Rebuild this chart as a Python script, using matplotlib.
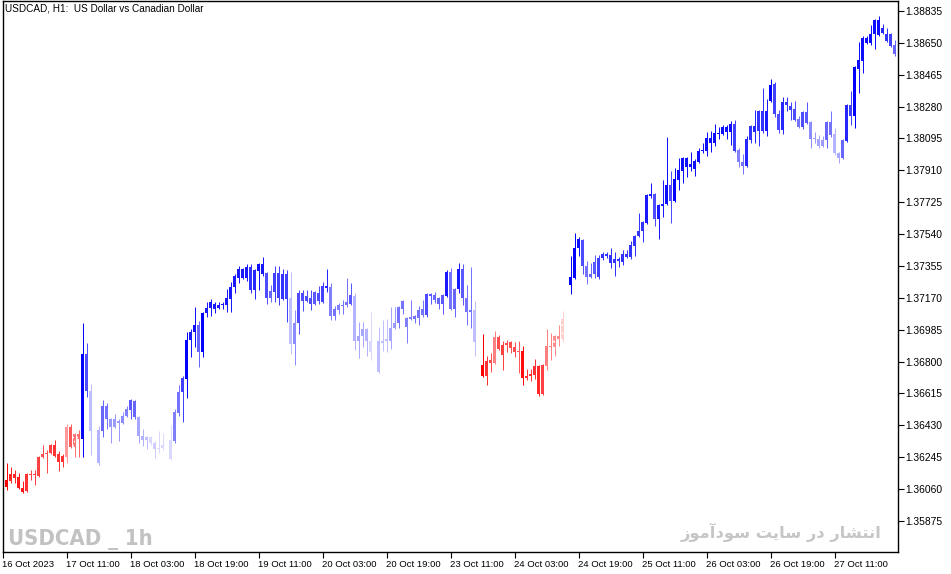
import numpy as np
import matplotlib.pyplot as plt
from matplotlib import font_manager
from matplotlib.font_manager import FontProperties

# USDCAD H1 candles (16 Oct 2023 19:00 onwards)
opens = [
    1.36165, 1.36072, 1.36107, 1.36148, 1.36130, 1.36067, 1.36049, 1.36148, 1.36142, 1.36136,
    1.36246, 1.36264, 1.36270, 1.36316, 1.36264, 1.36217, 1.36246, 1.36420, 1.36304, 1.36380,
    1.36351, 1.36845, 1.36629, 1.36397, 1.36212, 1.36397, 1.36542, 1.36467, 1.36420, 1.36455,
    1.36444, 1.36484, 1.36519, 1.36571, 1.36478, 1.36368, 1.36345, 1.36362, 1.36328, 1.36293,
    1.36299, 1.36316, 1.36235, 1.36339, 1.36502, 1.36623, 1.36700, 1.36926, 1.36972, 1.37013,
    1.36856, 1.37083, 1.37112, 1.37135, 1.37112, 1.37129, 1.37129, 1.37164, 1.37233, 1.37286,
    1.37338, 1.37286, 1.37349, 1.37216, 1.37326, 1.37367, 1.37315, 1.37170, 1.37204, 1.37315,
    1.37164, 1.37309, 1.37170, 1.36903, 1.37025, 1.37199, 1.37152, 1.37170, 1.37135, 1.37199,
    1.37146, 1.37239, 1.37233, 1.37065, 1.37100, 1.37123, 1.37129, 1.37135, 1.37181, 1.36920,
    1.36949, 1.36990, 1.36920, 1.36856, 1.36740, 1.36920, 1.36920, 1.36920, 1.36996, 1.37025,
    1.37106, 1.37054, 1.37048, 1.37065, 1.37054, 1.37106, 1.37071, 1.37193, 1.37187, 1.37170,
    1.37135, 1.37181, 1.37320, 1.37106, 1.37222, 1.37338, 1.37170, 1.37088, 1.37100, 1.36914,
    1.36781, 1.36717, 1.36810, 1.36793, 1.36943, 1.36839, 1.36897, 1.36914, 1.36885, 1.36856,
    1.36862, 1.36706, 1.36717, 1.36723, 1.36775, 1.36612, 1.36775, 1.36891, 1.36885, 1.36949,
    1.36932, 1.37048, 1.37245, 1.37286, 1.37459, 1.37506, 1.37355, 1.37291, 1.37309, 1.37291,
    1.37402, 1.37425, 1.37419, 1.37373, 1.37396, 1.37378, 1.37425, 1.37407, 1.37471, 1.37529,
    1.37558, 1.37605, 1.37761, 1.37773, 1.37628, 1.37703, 1.37715, 1.37825, 1.37732, 1.37854,
    1.37906, 1.37982, 1.37930, 1.37918, 1.37959, 1.38022, 1.38022, 1.38098, 1.38069, 1.38127,
    1.38121, 1.38162, 1.38132, 1.38180, 1.38028, 1.37959, 1.37935, 1.38086, 1.38168, 1.38138,
    1.38255, 1.38138, 1.38313, 1.38412, 1.38238, 1.38144, 1.38307, 1.38284, 1.38267, 1.38209,
    1.38162, 1.38249, 1.38191, 1.38092, 1.38092, 1.38051, 1.38086, 1.38191, 1.38121, 1.38011,
    1.37982, 1.38081, 1.38290, 1.38226, 1.38499, 1.38545, 1.38678, 1.38649, 1.38702, 1.38783,
    1.38707, 1.38702, 1.38702, 1.38638,
]
highs = [
    1.36171, 1.36212, 1.36188, 1.36171, 1.36154, 1.36107, 1.36154, 1.36171, 1.36171, 1.36252,
    1.36316, 1.36287, 1.36322, 1.36345, 1.36281, 1.36264, 1.36438, 1.36438, 1.36386, 1.36403,
    1.37025, 1.36909, 1.36671, 1.36415, 1.36426, 1.36577, 1.36560, 1.36473, 1.36496, 1.36467,
    1.36507, 1.36542, 1.36583, 1.36577, 1.36484, 1.36409, 1.36368, 1.36368, 1.36339, 1.36397,
    1.36386, 1.36328, 1.36432, 1.36525, 1.36665, 1.36717, 1.36972, 1.36990, 1.37117, 1.37036,
    1.37088, 1.37146, 1.37164, 1.37146, 1.37146, 1.37146, 1.37222, 1.37262, 1.37309, 1.37355,
    1.37344, 1.37367, 1.37367, 1.37338, 1.37373, 1.37407, 1.37320, 1.37245, 1.37355, 1.37355,
    1.37338, 1.37332, 1.37320, 1.37100, 1.37216, 1.37216, 1.37216, 1.37216, 1.37210, 1.37239,
    1.37262, 1.37338, 1.37256, 1.37123, 1.37141, 1.37158, 1.37286, 1.37256, 1.37199, 1.37030,
    1.37030, 1.36996, 1.37088, 1.36880, 1.37001, 1.37042, 1.37048, 1.37117, 1.37117, 1.37123,
    1.37158, 1.37059, 1.37158, 1.37071, 1.37123, 1.37158, 1.37199, 1.37199, 1.37204, 1.37175,
    1.37193, 1.37332, 1.37344, 1.37228, 1.37373, 1.37367, 1.37245, 1.37349, 1.37152, 1.36926,
    1.36961, 1.36833, 1.36851, 1.36978, 1.36955, 1.36920, 1.36926, 1.36920, 1.36914, 1.36920,
    1.36891, 1.36758, 1.36758, 1.36816, 1.36781, 1.36787, 1.36990, 1.36967, 1.36955, 1.37013,
    1.37094, 1.37256, 1.37413, 1.37547, 1.37524, 1.37512, 1.37384, 1.37373, 1.37419, 1.37419,
    1.37436, 1.37436, 1.37459, 1.37436, 1.37407, 1.37448, 1.37448, 1.37500, 1.37535, 1.37663,
    1.37616, 1.37773, 1.37837, 1.37779, 1.37715, 1.37854, 1.38104, 1.37906, 1.37924, 1.37982,
    1.37988, 1.37988, 1.38017, 1.37976, 1.38040, 1.38069, 1.38132, 1.38138, 1.38180, 1.38162,
    1.38174, 1.38174, 1.38197, 1.38203, 1.38040, 1.38005, 1.38109, 1.38174, 1.38261, 1.38261,
    1.38388, 1.38325, 1.38441, 1.38423, 1.38261, 1.38336, 1.38336, 1.38307, 1.38313, 1.38226,
    1.38255, 1.38307, 1.38197, 1.38132, 1.38115, 1.38109, 1.38197, 1.38255, 1.38156, 1.38017,
    1.38092, 1.38296, 1.38371, 1.38516, 1.38655, 1.38690, 1.38690, 1.38754, 1.38789, 1.38806,
    1.38760, 1.38736, 1.38707, 1.38667,
]
lows = [
    1.36067, 1.36055, 1.36096, 1.36096, 1.36061, 1.36038, 1.36043, 1.36113, 1.36084, 1.36130,
    1.36240, 1.36154, 1.36264, 1.36246, 1.36165, 1.36188, 1.36212, 1.36299, 1.36246, 1.36246,
    1.36246, 1.36594, 1.36258, 1.36206, 1.36200, 1.36362, 1.36409, 1.36328, 1.36415, 1.36339,
    1.36438, 1.36478, 1.36467, 1.36467, 1.36328, 1.36310, 1.36293, 1.36316, 1.36240, 1.36270,
    1.36287, 1.36223, 1.36229, 1.36328, 1.36484, 1.36449, 1.36589, 1.36827, 1.36885, 1.36769,
    1.36827, 1.37059, 1.37065, 1.37083, 1.37106, 1.37106, 1.37088, 1.37088, 1.37199, 1.37256,
    1.37280, 1.37268, 1.37199, 1.37164, 1.37216, 1.37297, 1.37135, 1.37146, 1.37146, 1.37129,
    1.37158, 1.37030, 1.36845, 1.36781, 1.36961, 1.37094, 1.37146, 1.37100, 1.37129, 1.37135,
    1.37141, 1.37204, 1.37042, 1.37042, 1.37077, 1.37077, 1.37117, 1.37129, 1.36868, 1.36821,
    1.36885, 1.36833, 1.36810, 1.36723, 1.36735, 1.36862, 1.36856, 1.36874, 1.36990, 1.36996,
    1.37077, 1.36909, 1.37042, 1.37025, 1.37013, 1.37059, 1.37059, 1.37135, 1.37141, 1.37106,
    1.37077, 1.37175, 1.37100, 1.37059, 1.37199, 1.37129, 1.37013, 1.36996, 1.36833, 1.36763,
    1.36711, 1.36665, 1.36740, 1.36787, 1.36868, 1.36752, 1.36856, 1.36851, 1.36827, 1.36735,
    1.36665, 1.36694, 1.36688, 1.36700, 1.36600, 1.36606, 1.36752, 1.36810, 1.36833, 1.36891,
    1.36914, 1.37030, 1.37193, 1.37280, 1.37413, 1.37309, 1.37251, 1.37286, 1.37286, 1.37280,
    1.37390, 1.37402, 1.37344, 1.37297, 1.37349, 1.37361, 1.37402, 1.37396, 1.37413, 1.37524,
    1.37494, 1.37599, 1.37750, 1.37587, 1.37512, 1.37639, 1.37709, 1.37605, 1.37726, 1.37796,
    1.37837, 1.37871, 1.37906, 1.37877, 1.37953, 1.38011, 1.37993, 1.38017, 1.38051, 1.38092,
    1.38115, 1.38092, 1.38057, 1.38017, 1.37930, 1.37889, 1.37930, 1.38069, 1.38069, 1.38051,
    1.38127, 1.38109, 1.38307, 1.38220, 1.38127, 1.38121, 1.38255, 1.38203, 1.38197, 1.38156,
    1.38150, 1.38180, 1.38040, 1.38069, 1.38040, 1.38046, 1.38040, 1.38104, 1.38000, 1.37953,
    1.37976, 1.38075, 1.38174, 1.38156, 1.38359, 1.38475, 1.38643, 1.38638, 1.38615, 1.38690,
    1.38702, 1.38655, 1.38626, 1.38574,
]
closes = [
    1.36072, 1.36113, 1.36148, 1.36125, 1.36067, 1.36043, 1.36148, 1.36142, 1.36148, 1.36246,
    1.36264, 1.36270, 1.36316, 1.36252, 1.36217, 1.36252, 1.36420, 1.36304, 1.36380, 1.36351,
    1.36845, 1.36629, 1.36397, 1.36217, 1.36403, 1.36542, 1.36467, 1.36420, 1.36467, 1.36444,
    1.36484, 1.36525, 1.36577, 1.36478, 1.36368, 1.36345, 1.36362, 1.36328, 1.36293, 1.36299,
    1.36316, 1.36235, 1.36345, 1.36507, 1.36623, 1.36706, 1.36926, 1.36972, 1.37013, 1.36856,
    1.37083, 1.37112, 1.37146, 1.37106, 1.37129, 1.37135, 1.37170, 1.37233, 1.37297, 1.37338,
    1.37286, 1.37349, 1.37216, 1.37332, 1.37367, 1.37309, 1.37170, 1.37210, 1.37315, 1.37170,
    1.37309, 1.37164, 1.36903, 1.37025, 1.37199, 1.37152, 1.37181, 1.37135, 1.37204, 1.37152,
    1.37239, 1.37228, 1.37065, 1.37106, 1.37129, 1.37129, 1.37146, 1.37187, 1.36920, 1.36949,
    1.36990, 1.36920, 1.36856, 1.36740, 1.36920, 1.36909, 1.36932, 1.36996, 1.37025, 1.37117,
    1.37152, 1.37001, 1.37059, 1.37048, 1.37100, 1.37071, 1.37193, 1.37181, 1.37158, 1.37135,
    1.37187, 1.37320, 1.37106, 1.37222, 1.37338, 1.37170, 1.37088, 1.37100, 1.36914, 1.36775,
    1.36717, 1.36804, 1.36793, 1.36943, 1.36874, 1.36897, 1.36909, 1.36880, 1.36856, 1.36862,
    1.36706, 1.36717, 1.36729, 1.36775, 1.36612, 1.36781, 1.36891, 1.36885, 1.36949, 1.36932,
    1.37048, 1.37239, 1.37291, 1.37459, 1.37512, 1.37355, 1.37291, 1.37309, 1.37378, 1.37402,
    1.37425, 1.37413, 1.37373, 1.37396, 1.37384, 1.37425, 1.37407, 1.37477, 1.37529, 1.37558,
    1.37611, 1.37767, 1.37773, 1.37628, 1.37709, 1.37715, 1.37825, 1.37732, 1.37860, 1.37912,
    1.37982, 1.37930, 1.37947, 1.37964, 1.38022, 1.38028, 1.38098, 1.38069, 1.38127, 1.38121,
    1.38162, 1.38132, 1.38180, 1.38022, 1.37959, 1.37935, 1.38092, 1.38168, 1.38132, 1.38255,
    1.38138, 1.38255, 1.38406, 1.38238, 1.38144, 1.38307, 1.38290, 1.38261, 1.38203, 1.38162,
    1.38249, 1.38185, 1.38092, 1.38098, 1.38051, 1.38086, 1.38191, 1.38115, 1.38011, 1.37982,
    1.38086, 1.38290, 1.38226, 1.38510, 1.38551, 1.38678, 1.38649, 1.38702, 1.38783, 1.38696,
    1.38736, 1.38661, 1.38632, 1.38586,
]
# indicator colour per candle: -1 strong red .. 0 white .. +1 strong blue
trend = [
    -0.9, -1.0, -0.85, -0.85, -0.9, -0.9, -0.8, -0.75, -0.75, -0.75,
    -0.7, -0.7, -0.75, -0.8, -0.8, -0.8, -0.4, -0.65, -0.55, -0.6,
    1.0, 0.7, 0.25, 0.0, 0.3, 0.6, 0.55, 0.4, 0.4, 0.4,
    0.45, 0.5, 0.65, 0.6, 0.35, 0.3, 0.25, 0.15, 0.2, 0.15,
    0.15, 0.0, 0.15, 0.5, 0.55, 0.75, 1.0, 0.9, 0.95, 0.6,
    1.0, 0.9, 0.9, 0.9, 0.9, 0.9, 0.9, 0.9, 0.9, 0.9,
    0.9, 0.9, 0.8, 0.85, 0.95, 0.9, 0.7, 0.6, 0.75, 0.75,
    0.8, 0.75, 0.25, 0.45, 0.7, 0.7, 0.7, 0.7, 0.65, 0.7,
    0.75, 0.85, 0.5, 0.55, 0.5, 0.55, 0.55, 0.65, 0.3, 0.35,
    0.35, 0.3, 0.15, 0.0, 0.25, 0.25, 0.25, 0.35, 0.4, 0.55,
    0.55, 0.5, 0.5, 0.55, 0.55, 0.55, 0.7, 0.65, 0.6, 0.6,
    0.65, 0.9, 0.55, 0.6, 0.9, 0.65, 0.55, 0.55, 0.25, 0.0,
    -1.0, -0.8, -0.7, -0.5, -0.7, -0.75, -0.7, -0.7, -0.7, -0.65,
    -0.95, -0.8, -0.8, -0.8, -0.85, -0.75, -0.5, -0.5, -0.45, -0.45,
    -0.2, 0.0, 1.0, 1.0, 0.95, 0.7, 0.55, 0.6, 0.65, 0.75,
    0.8, 0.8, 0.8, 0.8, 0.8, 0.8, 0.8, 0.8, 0.8, 0.8,
    0.8, 0.9, 0.9, 0.7, 0.9, 0.9, 0.95, 0.7, 1.0, 0.95,
    0.95, 0.95, 0.95, 0.95, 0.95, 0.95, 0.95, 0.95, 0.95, 0.95,
    0.95, 0.95, 0.95, 0.75, 0.5, 0.55, 0.85, 0.8, 0.85, 0.8,
    0.8, 0.9, 1.0, 0.75, 0.7, 0.85, 0.8, 0.75, 0.7, 0.55,
    0.7, 0.65, 0.45, 0.4, 0.35, 0.4, 0.6, 0.55, 0.3, 0.35,
    0.6, 0.85, 0.75, 1.0, 0.95, 0.95, 0.95, 0.95, 0.95, 0.95,
    0.85, 0.8, 0.75, 0.6,
]
dotted_bars = [18, 19, 138, 140]

tick_bars = list(range(0, 224, 16))
tick_labels = ['16 Oct 2023', '17 Oct 11:00', '18 Oct 03:00', '18 Oct 19:00',
               '19 Oct 11:00', '20 Oct 03:00', '20 Oct 19:00', '23 Oct 11:00',
               '24 Oct 03:00', '24 Oct 19:00', '25 Oct 11:00', '26 Oct 03:00',
               '26 Oct 19:00', '27 Oct 11:00']
price_ticks = [1.35875, 1.36060, 1.36245, 1.36430, 1.36615, 1.36800, 1.36985,
               1.37170, 1.37355, 1.37540, 1.37725, 1.37910, 1.38095, 1.38280,
               1.38465, 1.38650, 1.38835]

watermark_persian = 'انتشار در سایت سودآموز'


def candle_colour(t):
    a = min(abs(t), 1.0)
    if t >= 0:
        return (1 - a, 1 - a, 1.0)
    return (1.0, 1 - a, 1 - a)


def shape_persian(text):
    # matplotlib has no arabic shaping, so pick presentation forms by hand
    # (isolated, final, initial, medial); None = letter never joins forward
    forms = {
        'ا': ('\ufe8d', '\ufe8e', None, None),
        'آ': ('\ufe81', '\ufe82', None, None),
        'ر': ('\ufead', '\ufeae', None, None),
        'د': ('\ufea9', '\ufeaa', None, None),
        'و': ('\ufeed', '\ufeee', None, None),
        'ز': ('\ufeaf', '\ufeb0', None, None),
        'ن': ('\ufee5', '\ufee6', '\ufee7', '\ufee8'),
        'ت': ('\ufe95', '\ufe96', '\ufe97', '\ufe98'),
        'ش': ('\ufeb5', '\ufeb6', '\ufeb7', '\ufeb8'),
        'س': ('\ufeb1', '\ufeb2', '\ufeb3', '\ufeb4'),
        'م': ('\ufee1', '\ufee2', '\ufee3', '\ufee4'),
        'ی': ('\ufeef', '\ufef0', '\ufef3', '\ufef4'),
    }
    out = []
    for i, ch in enumerate(text):
        if ch not in forms:
            out.append(ch)
            continue
        prev = text[i - 1] if i > 0 else ''
        nxt = text[i + 1] if i + 1 < len(text) else ''
        join_prev = prev in forms and forms[prev][2] is not None
        join_next = nxt in forms and forms[ch][2] is not None
        iso, fin, ini, med = forms[ch]
        if join_prev and join_next:
            out.append(med)
        elif join_prev:
            out.append(fin)
        elif join_next:
            out.append(ini)
        else:
            out.append(iso)
    return ''.join(reversed(out))


def condensed_bold():
    # a narrow bold face for the big watermark, if one is installed
    for f in font_manager.fontManager.ttflist:
        narrow = 'condensed' in str(f.stretch) or 'Condensed' in f.name or 'Narrow' in f.name
        if narrow and str(f.weight) in ('700', 'bold') and 'Mono' not in f.name:
            return FontProperties(fname=f.fname)
    return FontProperties(family=['Roboto', 'Liberation Sans'], weight='bold')


def fit_width(txt, target_px):
    fig.canvas.draw()
    w = txt.get_window_extent(fig.canvas.get_renderer()).width
    txt.set_fontsize(txt.get_fontsize() * target_px / w)


o = np.array(opens)
h = np.array(highs)
l = np.array(lows)
c = np.array(closes)
x = np.arange(len(o))
cols = [candle_colour(t) for t in trend]

body_lo = np.minimum(o, c)
body_h = np.maximum(np.abs(c - o), 0.00006)

plt.rcParams['font.family'] = ['Liberation Sans', 'DejaVu Sans']

fig = plt.figure(figsize=(9.51, 5.74), dpi=100)
ax = fig.add_axes([2.5 / 951, 22 / 574, 895.5 / 951, 551 / 574])

ax.vlines(x, l, h, colors=cols, linewidth=0.72)
ax.bar(x, body_h, bottom=body_lo, width=0.75, color=cols, linewidth=0)
ax.bar(x[dotted_bars], body_h[dotted_bars], bottom=body_lo[dotted_bars], width=0.75,
       fill=False, hatch='....', edgecolor='white', linewidth=0)

ax.set_xlim(0, 895.5 / 4)
ax.set_ylim(1.35695, 1.38893)

ax.yaxis.tick_right()
ax.set_yticks(price_ticks)
ax.set_yticklabels([f'{p:.5f}' for p in price_ticks])
ax.set_xticks(tick_bars)
ax.set_xticklabels(tick_labels)
for lbl in ax.get_xticklabels():
    lbl.set_horizontalalignment('left')
ax.tick_params(axis='y', direction='out', length=4, width=0.8, labelsize=7.4, pad=1.5)
ax.tick_params(axis='x', direction='out', length=4, width=0.8, labelsize=6.8, pad=1.5)
for sp in ax.spines.values():
    sp.set_linewidth(1.0)
    sp.set_color('black')

ax.text(0.0028, 0.995, 'USDCAD, H1:  US Dollar vs Canadian Dollar', transform=ax.transAxes,
        ha='left', va='top', fontsize=7.2)

wm = ax.text(0.006, 0.013, 'USDCAD _ 1h', transform=ax.transAxes, ha='left', va='baseline',
             fontproperties=condensed_bold(), fontsize=21, color='#c2c2c2')
fa = ax.text(0.982, 0.026, shape_persian(watermark_persian), transform=ax.transAxes,
             ha='right', va='baseline', fontsize=15, fontweight='bold',
             family='DejaVu Sans', color='#c6c6c6')
fit_width(wm, 144)
fit_width(fa, 200)

fig.savefig('out.png', dpi=100)
